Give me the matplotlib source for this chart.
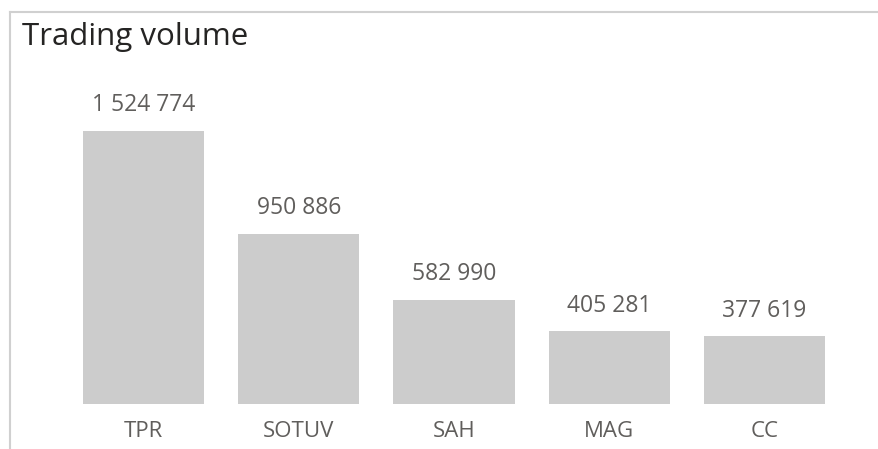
import matplotlib.pyplot as plt
from matplotlib.lines import Line2D

plt.rcParams['font.family'] = ['Open Sans', 'DejaVu Sans']

tickers = ["TPR", "SOTUV", "SAH", "MAG", "CC"]
volumes = [1524774, 950886, 582990, 405281, 377619]

W, H = 879, 449
fig = plt.figure(figsize=(W / 100, H / 100), dpi=100)

# axes placed in pixel terms: bars span 66..842 horizontally, baseline at y=404
left, right, bottom, top = 66, 842, 404, 60
ax = fig.add_axes([left / W, (H - bottom) / H, (right - left) / W, (bottom - top) / H])

x = range(len(tickers))
ax.bar(x, volumes, width=0.78, color="#cccccc")
ax.set_xlim(-0.5, len(tickers) - 0.5)
ax.set_ylim(0, max(volumes) * (bottom - top) / 273)

for i, v in zip(x, volumes):
    ax.annotate(f"{v:,}".replace(",", " "), (i, v), xytext=(0, 10), textcoords="offset points",
                ha="center", va="bottom", fontsize=16.5, color="#605e5c")

ax.set_xticks(list(x))
ax.set_xticklabels(tickers, fontsize=16, color="#605e5c")
ax.tick_params(axis="x", length=0, pad=12)
ax.set_yticks([])
for s in ax.spines.values():
    s.set_visible(False)

fig.text(22 / W, (H - 45) / H, "Trading volume", fontsize=22.5, color="#252423",
         ha="left", va="baseline", weight="medium")

# card border: top and left edges
y_top = (H - 12) / H
x_left = 10 / W
fig.add_artist(Line2D([x_left, 1], [y_top, y_top], transform=fig.transFigure, color="#d0d0d0", lw=1.5))
fig.add_artist(Line2D([x_left, x_left], [0, y_top], transform=fig.transFigure, color="#d0d0d0", lw=1.5))

fig.savefig("out.png", dpi=100)
